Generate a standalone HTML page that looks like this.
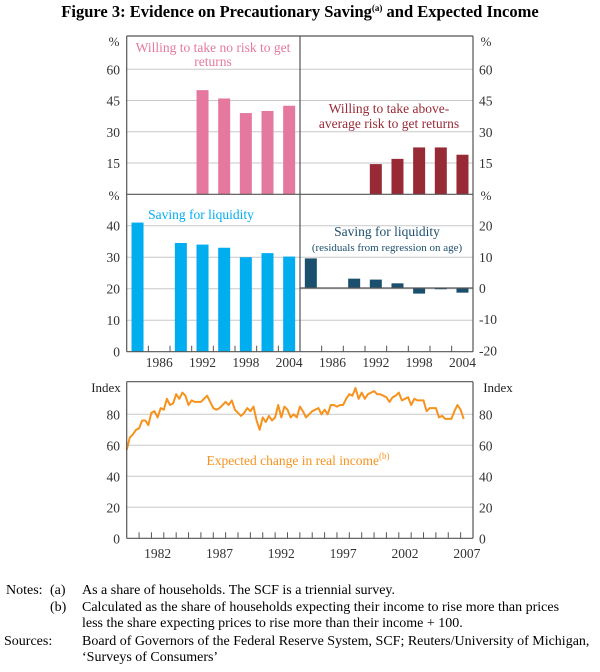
<!DOCTYPE html>
<html><head><meta charset="utf-8"><style>
body{margin:0;background:#fff;}
svg text{font-family:"Liberation Serif",serif;}
</style></head><body>
<svg id="chart" width="600" height="667" viewBox="0 0 600 667" xmlns="http://www.w3.org/2000/svg">
<text x="300" y="17" text-anchor="middle" font-size="16.5" font-weight="bold">Figure 3: Evidence on Precautionary Saving<tspan font-size="9" dy="-6">(a)</tspan><tspan dy="6"> and Expected Income</tspan></text>
<g id="grid"></g>
<g id="marks"></g>
<g id="frames"></g>
<g id="labels"></g>
<g font-size="14">
<text x="6" y="594">Notes:</text>
<text x="50" y="594">(a)</text><text x="82" y="594">As a share of households. The SCF is a triennial survey.</text>
<text x="50" y="611">(b)</text><text x="82" y="611">Calculated as the share of households expecting their income to rise more than prices</text>
<text x="82" y="627">less the share expecting prices to rise more than their income + 100.</text>
<text x="4" y="645">Sources:</text><text x="82" y="645">Board of Governors of the Federal Reserve System, SCF; Reuters/University of Michigan,</text>
<text x="82" y="661">‘Surveys of Consumers’</text>
</g>
</svg>
<script>
const surveyYears=[1983,1989,1992,1995,1998,2001,2004];
const noRisk=[null,null,50,46,39,40,42.5];
const aboveRisk=[null,null,14.5,17,22.5,22.5,19];
const liquidityVals=[41,34.5,34,33,30,31.3,30.2];
const liquidityResid=[9.5,3,2.7,1.5,-1.8,-0.4,-1.5];
const barTickLabels=[1986,1992,1998,2004];
const topTicks=[15,30,45,60];
const midLeftTicks=[0,10,20,30,40];
const midRightTicks=[-20,-10,0,10,20];
const incomeStart=1980;
const income=[57,65,67,70,71,76,76,73,81,82,78,84,83,90,86,87,93,90,94,92,86,89,88,88,88,90,92,88,84,83,84,86,88,86,89,83,81,79,81,84,82,85,76,70,78,75,79,76,78,86,78,85,83,78,80,78,85,82,78,80,82,83,84,80,83,80,86,86,85,86,86,90,93,92,97,90,94,90,93,94,95,93,93,92,91,88,91,92,94,89,90,91,86,90,89,89,89,82,84,84,84,78,79,77,77,77,82,86,83,77];
const incomeTicks=[0,20,40,60,80];
const incomeYearLabels=[1982,1987,1992,1997,2002,2007];

const NS="http://www.w3.org/2000/svg";
function mk(tag,attrs,parent){const e=document.createElementNS(NS,tag);for(const k in attrs)e.setAttribute(k,attrs[k]);document.getElementById(parent).appendChild(e);return e;}
const L=126.7,M=300,R=473;
const topY0=194.3,topTop=36,midY=351.7;
function bx(yr,x0){return x0+(yr-1981.5)*(M-L)/24;}
function yTop(v){return topY0-v*(topY0-69.3)/60;}
function yMidL(v){return midY-v*(midY-225.7)/40;}
function yMidR(v){return 288-v*(288-225.7)/20;}
const BW=12;
topTicks.forEach(t=>{const g=mk('line',{x1:L,x2:R,y1:yTop(t),y2:yTop(t),stroke:'#c8c8c8','stroke-width':1},'grid');});
midLeftTicks.forEach(t=>{if(t===0)return;const g=mk('line',{x1:L,x2:R,y1:yMidL(t),y2:yMidL(t),stroke:'#c8c8c8','stroke-width':1},'grid');});
function bar(x,y0,y1,col,name){const r=mk('rect',{x:x-BW/2,y:Math.min(y0,y1),width:BW,height:Math.abs(y1-y0),fill:col},'marks');}
surveyYears.forEach((yr,i)=>{
 if(noRisk[i]!=null)bar(bx(yr,L),yTop(0),yTop(noRisk[i]),'#e5789f','bar-no-risk-'+yr);
 if(aboveRisk[i]!=null)bar(bx(yr,M),yTop(0),yTop(aboveRisk[i]),'#982a36','bar-above-risk-'+yr);
 bar(bx(yr,L),yMidL(0),yMidL(liquidityVals[i]),'#00adef','bar-liquidity-'+yr);
 bar(bx(yr,M),yMidR(0),yMidR(liquidityResid[i]),'#1b4f6e','bar-liquidity-resid-'+yr);
});
const ix0=L,ix1=R;function ix(t){return ix0+(t-1980)*(ix1-ix0)/28;}
const iy0=538.3;function iy(v){return iy0-v*(iy0-414.3)/80;}
incomeTicks.forEach(t=>{if(t===0)return;const g=mk('line',{x1:L,x2:R,y1:iy(t),y2:iy(t),stroke:'#c8c8c8'},'grid');});
const pts=income.map((v,i)=>ix(incomeStart+i*0.25).toFixed(1)+','+iy(v).toFixed(1)).join(' ');
const pl=mk('polyline',{points:pts,fill:'none',stroke:'#f6921e','stroke-width':2,'stroke-linejoin':'round'},'marks');


const fr=[[L,topTop,R,topTop],[L,topTop,L,midY],[R,topTop,R,midY],[M,topTop,M,midY],[L,topY0,R,topY0],[L,midY,R,midY],[M,288,R,288],
[L,381.7,R,381.7],[L,381.7,L,iy0],[R,381.7,R,iy0],[L,iy0,R,iy0]];
fr.forEach(f=>{const l=mk('line',{x1:f[0],y1:f[1],x2:f[2],y2:f[3],stroke:'#555','stroke-width':1.2},'frames');});
for(let k=1;k<8;k++){[L,M].forEach(x0=>{const x=bx(1981.5+3*k,x0);const l=mk('line',{x1:x,x2:x,y1:midY,y2:midY-6,stroke:'#555'},'frames');});}
for(let y=1981;y<2008;y++){const x=ix(y);const l=mk('line',{x1:x,x2:x,y1:iy0,y2:iy0-6,stroke:'#555'},'frames');}
function txt(x,y,s,anchor,size,col,name){const t=mk('text',{x:x,y:y,'text-anchor':anchor,'font-size':size,fill:col},'labels');t.textContent=s;return t;}
topTicks.forEach(t=>{txt(120,yTop(t)+5,t,'end',13.5,'#333','y-tick-top-left');txt(479,yTop(t)+5,t,'start',13.5,'#333','y-tick-top-right');});
txt(114,46,'%','middle',13,'#333','unit-top-left');txt(486,46,'%','middle',13,'#333','unit-top-right');
txt(114,200,'%','middle',13,'#333','unit-mid-left');txt(486,200,'%','middle',13,'#333','unit-mid-right');
midLeftTicks.forEach(t=>txt(120,yMidL(t)+5,t,'end',13.5,'#333','y-tick-mid-left'));
midRightTicks.forEach(t=>txt(479,yMidR(t)+5,t,'start',13.5,'#333','y-tick-mid-right'));
barTickLabels.forEach(y=>{txt(bx(y,L),367,y,'middle',13.5,'#333','x-label-left');txt(bx(y,M),367,y,'middle',13.5,'#333','x-label-right');});
incomeTicks.forEach(t=>{txt(120,iy(t)+5,t,'end',13.5,'#333','y-tick-income-left');txt(479,iy(t)+5,t,'start',13.5,'#333','y-tick-income-right');});
txt(106,392,'Index','middle',13,'#222','unit-income-left');txt(498,392,'Index','middle',13,'#222','unit-income-right');
incomeYearLabels.forEach(y=>txt(ix(y+0.5),558,y,'middle',13.5,'#333','x-label-income'));
txt(213,52,'Willing to take no risk to get','middle',13.5,'#e5789f','label-no-risk');
txt(213,66,'returns','middle',13.5,'#e5789f','label-no-risk-2');
txt(389,113,'Willing to take above-','middle',13.5,'#982a36','label-above-risk');
txt(389,128,'average risk to get returns','middle',13.5,'#982a36','label-above-risk-2');
txt(201,219,'Saving for liquidity','middle',13.5,'#00adef','label-liquidity');
txt(387,236,'Saving for liquidity','middle',13.5,'#1b4f6e','label-liquidity-resid');
txt(387,251,'(residuals from regression on age)','middle',11,'#1b4f6e','label-liquidity-resid-2');
const t=txt(298,465,'Expected change in real income','middle',13.5,'#f6921e','label-income');
const sp=document.createElementNS(NS,'tspan');sp.setAttribute('font-size','9');sp.setAttribute('dy','-6');sp.textContent='(b)';t.appendChild(sp);
</script>
</body></html>
